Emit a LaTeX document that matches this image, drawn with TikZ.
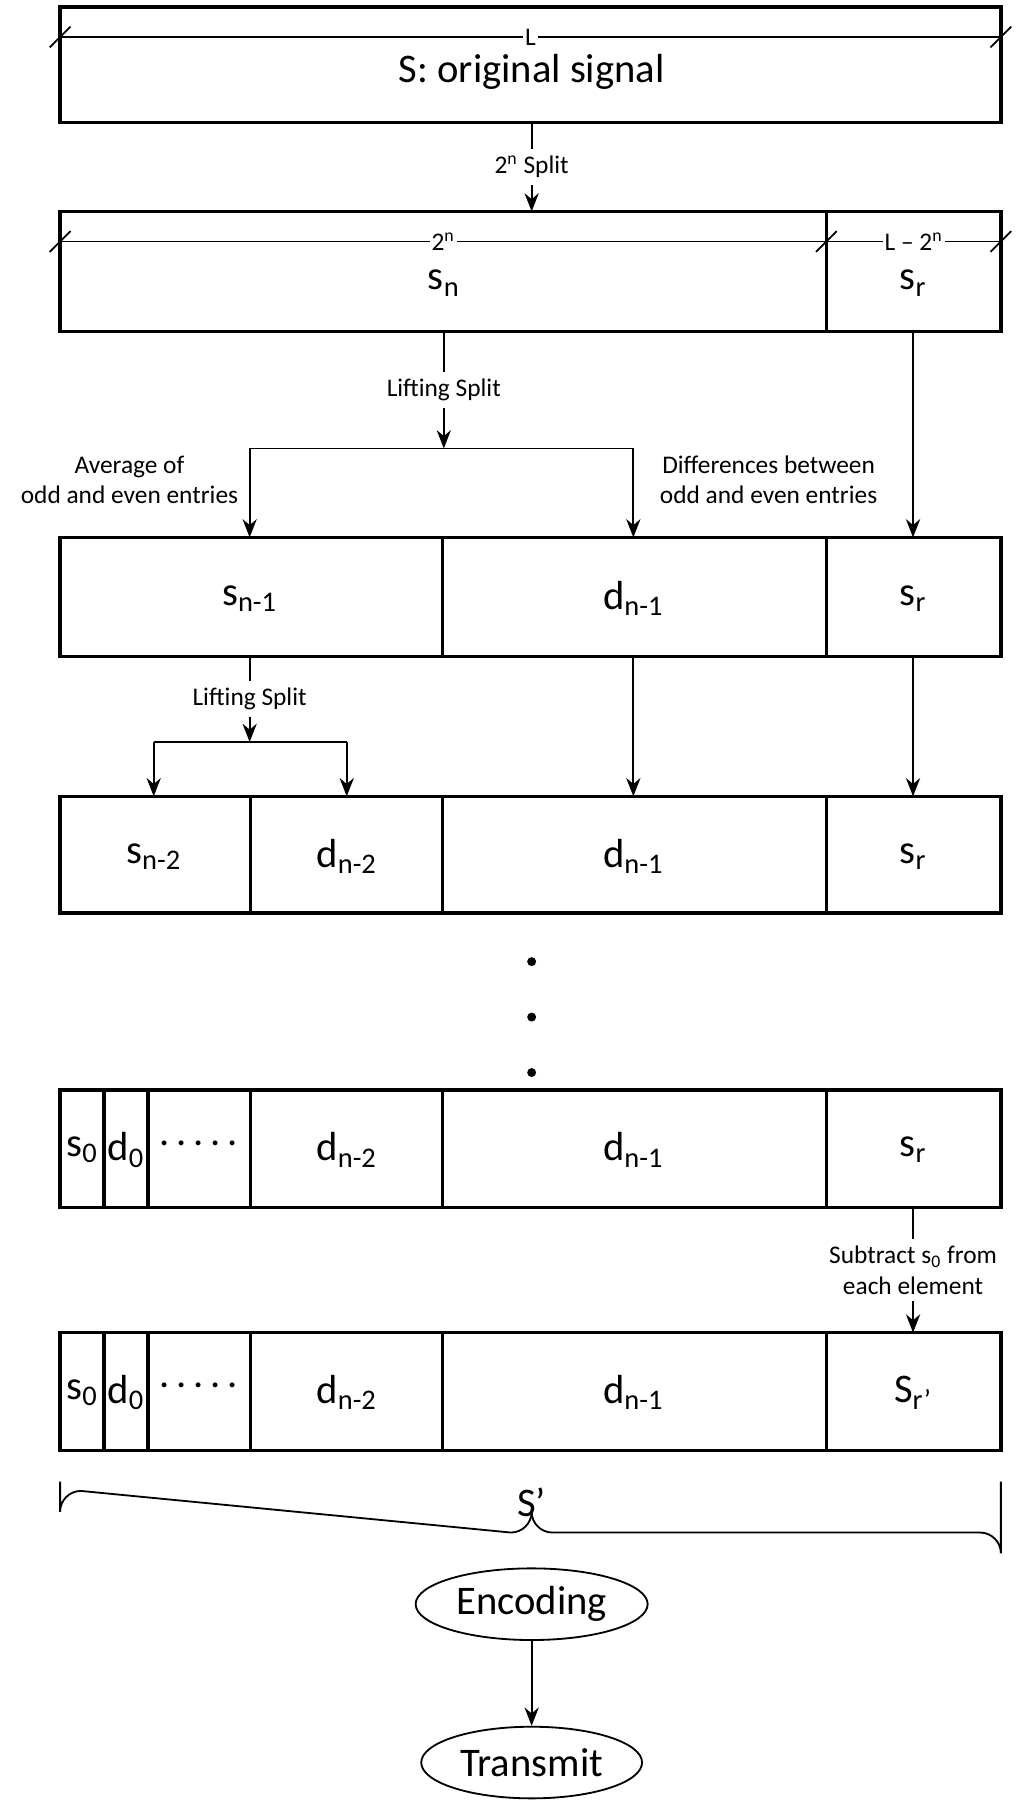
\documentclass[tikz,border=0pt]{standalone}
\usepackage{fontspec}
\setmainfont{Carlito}
\usetikzlibrary{arrows.meta,shapes.geometric,positioning,calc}
\tikzset
{
  box/.style    = {line width=1.6pt},
  link/.style   = {line width=0.9pt},
  arr/.style    = {link, -{Stealth[length=9pt,width=7pt]}},
  big/.style    = {font=\fontsize{20}{22}\selectfont},
  small/.style  = {font=\fontsize{12.5}{15}\selectfont, align=center},
  dimtxt/.style = {font=\fontsize{12.5}{14}\selectfont, fill=white, inner sep=1pt},
  oval/.style   = {ellipse, draw, line width=0.9pt, minimum width=3.36cm, minimum height=1.24cm, font=\fontsize{20}{22}\selectfont}
}
\newcommand{\slashmark}[1]{\draw[link] ($(#1)+(-9,9)$) -- ($(#1)+(9,-9)$);}
\begin{document}
\begin{tikzpicture}[x=0.02cm,y=-0.02cm]
  \useasboundingbox (0,0) rectangle (886,1573);
  % boxes
  \draw[box] (52,6) rectangle (866,106);
  \draw[box] (52,183) rectangle (866,287) (715,183) -- (715,287);
  \draw[box] (52,465) rectangle (866,568) (383,465) -- (383,568) (715,465) -- (715,568);
  \draw[box] (52,689) rectangle (866,790) (217,689) -- (217,790) (383,689) -- (383,790) (715,689) -- (715,790);
  \foreach \y in {943,1153}
    \draw[box] (52,\y) rectangle (866,\y+102) (90,\y) -- (90,\y+102) (128,\y) -- (128,\y+102)
      (217,\y) -- (217,\y+102) (383,\y) -- (383,\y+102) (715,\y) -- (715,\y+102);
  % dimension lines
  \coordinate (dA) at (52,32); \coordinate (dB) at (866,32);
  \coordinate (dC) at (52,209); \coordinate (dD) at (715,209); \coordinate (dE) at (866,209);
  \draw[link] (dA) -- node[dimtxt] {L} (dB);
  \draw[link] (dC) -- node[dimtxt] {2\textsuperscript{n}} (dD);
  \draw[link] (dD) -- node[dimtxt] {L -- 2\textsuperscript{n}} (dE);
  \slashmark{dA} \slashmark{dB} \slashmark{dC} \slashmark{dD} \slashmark{dE}
  % labels in boxes
  \node[big] (sig) at (460,62) {S: original signal};
  \node[big] (sn) at (384,245) {s\textsubscript{n}};
  \node[big] (sr1) at (790,245) {s\textsubscript{r}};
  \node[big] (sn1) at (216,518) {s\textsubscript{n-1}};
  \node[big] (dn1) at (548,518) {d\textsubscript{n-1}};
  \node[big] (sr2) at (790,518) {s\textsubscript{r}};
  \node[big] (sn2) at (133,741) {s\textsubscript{n-2}};
  \node[big] (dn2) at (300,741) {d\textsubscript{n-2}};
  \node[big] (dn1b) at (548,741) {d\textsubscript{n-1}};
  \node[big] (sr3) at (790,741) {s\textsubscript{r}};
  \foreach \y/\r [count=\i] in {995/s\textsubscript{r},1205/S\textsubscript{r\textquoteright}}{
    \node[big] at (71,\y) {s\textsubscript{0}};
    \node[big] at (109,\y) {d\textsubscript{0}};
    \node[big] at (172,\y-6) {.\,.\,.\,.\,.};
    \node[big] at (300,\y) {d\textsubscript{n-2}};
    \node[big] at (548,\y) {d\textsubscript{n-1}};
    \node[big] at (790,\y) {\r};
  }
  % anchor points
  \coordinate (t1) at (460,106); \coordinate (h1) at (460,183);
  \coordinate (t2) at (384,287); \coordinate (j2) at (384,388);
  \coordinate (l2) at (216,388); \coordinate (r2) at (548,388);
  \coordinate (l2b) at (216,465); \coordinate (r2b) at (548,465);
  \coordinate (sr1t) at (790,287); \coordinate (sr1b) at (790,465);
  \coordinate (t3) at (216,568); \coordinate (j3) at (216,642);
  \coordinate (l3) at (133,642); \coordinate (r3) at (300,642);
  \coordinate (l3b) at (133,689); \coordinate (r3b) at (300,689);
  \coordinate (d3t) at (548,568); \coordinate (d3b) at (548,689);
  \coordinate (s3t) at (790,568); \coordinate (s3b) at (790,689);
  \coordinate (s5t) at (790,1045); \coordinate (s5b) at (790,1153);
  % connectors
  \draw[arr] (t1) -- node[small, fill=white] {2\textsuperscript{n} Split} (h1);
  \draw[arr] (t2) -- node[small, fill=white] {Lifting Split} (j2);
  \draw[link] (l2) -- (r2);
  \draw[arr] (l2) -- (l2b);
  \draw[arr] (r2) -- (r2b);
  \draw[arr] (sr1t) -- (sr1b);
  \node[small] at (112,415) {Average of\\odd and even entries};
  \node[small] at (665,415) {Differences between\\odd and even entries};
  \draw[arr] (t3) -- node[small, fill=white] {Lifting Split} (j3);
  \draw[link] (l3) -- (r3);
  \draw[arr] (l3) -- (l3b);
  \draw[arr] (r3) -- (r3b);
  \draw[arr] (d3t) -- (d3b);
  \draw[arr] (s3t) -- (s3b);
  \draw[arr] (s5t) -- node[small, fill=white] {Subtract s\textsubscript{0} from\\each element} (s5b);
  % dots
  \foreach \y in {832,880,928} \fill (460,\y) circle (2.2pt);
  % brace
  \draw[link] (52,1282) -- (52,1308) arc[start angle=180, end angle=270, radius=18] -- (442,1326)
    arc[start angle=90, end angle=0, radius=18] arc[start angle=180, end angle=90, radius=18] -- (848,1326)
    arc[start angle=270, end angle=360, radius=18] -- (866,1282);
  \node[big] (sp) at (460,1300) {S\textquoteright};
  % ovals
  \node[oval] (enc) at (460,1388) {Encoding};
  \node[oval] (tx) at (460,1525) {Transmit};
  \draw[arr] (enc) -- (tx);
\end{tikzpicture}
\end{document}
